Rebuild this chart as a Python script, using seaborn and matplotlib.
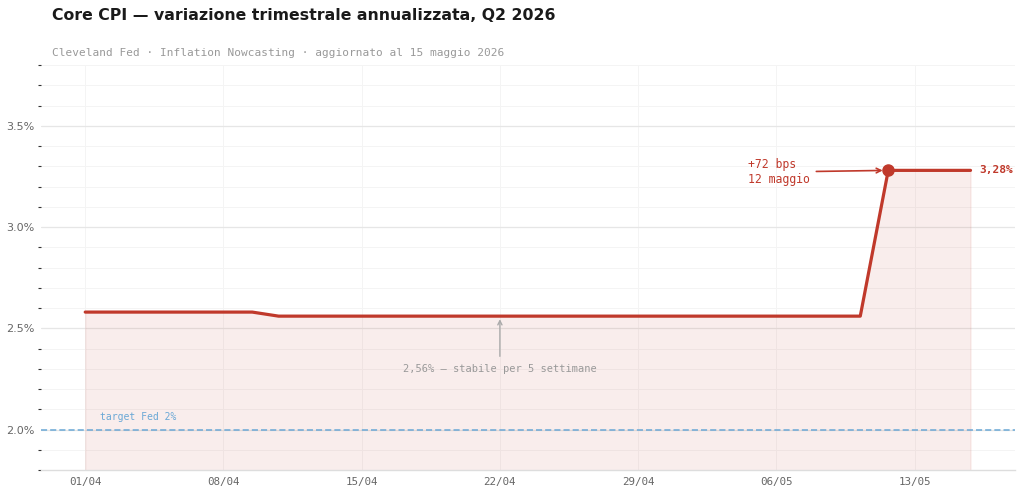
import matplotlib
matplotlib.use('agg')
import matplotlib.pyplot as plt
import matplotlib.dates as mdates
from matplotlib.ticker import MultipleLocator, FuncFormatter
import seaborn as sns
import pandas as pd

# nowcast readings (timestamps)
dates = ['2026-04-01 00:00', '2026-04-09 11:00', '2026-04-10 19:00',
         '2026-05-10 06:00', '2026-05-11 16:00', '2026-05-15 20:00']
core_cpi = [2.58, 2.58, 2.56, 2.56, 3.28, 3.28]
fed_target = 2.0
week_ticks = ['2026-04-01', '2026-04-08', '2026-04-15', '2026-04-22',
              '2026-04-29', '2026-05-06', '2026-05-13']

df = pd.DataFrame({'date': pd.to_datetime(dates), 'cpi': core_cpi})

RED = '#c0392b'
BLUE = '#6aa8d6'
MONO = 'DejaVu Sans Mono'

sns.set_theme(style='white')
plt.rcParams['font.family'] = ['DejaVu Sans']

fig = plt.figure(figsize=(10.24, 4.95), dpi=100)
ax = fig.add_axes([0.04, 0.0505, 0.951, 0.818])

ax.fill_between(df['date'], df['cpi'], 1.0, color=RED, alpha=0.085, lw=1, zorder=1)
ax.axhline(fed_target, color=BLUE, lw=1.1, ls=(0, (4, 2)), zorder=2)
sns.lineplot(data=df, x='date', y='cpi', color=RED, lw=2.3, ax=ax, zorder=3)

# 12 May jump
jump = df.iloc[4]
ax.plot([jump['date']], [jump['cpi']], 'o', color=RED, ms=8, zorder=4)

ax.set_ylim(1.8, 3.8)
ax.margins(x=0.05)
ax.set_xlabel('')
ax.set_ylabel('')

ax.yaxis.set_major_locator(MultipleLocator(0.5))
ax.yaxis.set_minor_locator(MultipleLocator(0.1))
ax.yaxis.set_major_formatter(FuncFormatter(lambda v, p: f'{v:.1f}%'))
ax.set_xticks(pd.to_datetime(week_ticks))
ax.xaxis.set_major_formatter(mdates.DateFormatter('%d/%m'))

ax.grid(axis='y', which='major', color='#e6e6e6', lw=0.9)
ax.grid(axis='y', which='minor', color='#f4f4f4', lw=0.7)
ax.grid(axis='x', which='major', color='#f4f4f4', lw=0.7)
ax.set_axisbelow(True)

ax.tick_params(axis='y', which='major', length=0, pad=5, labelsize=8, labelcolor='#666666')
ax.tick_params(axis='y', which='minor', length=2.5, width=0.8, color='#333333', left=True)
ax.tick_params(axis='x', which='major', length=0, pad=5, labelsize=7.8, labelcolor='#666666')
for lbl in ax.get_xticklabels():
    lbl.set_family(MONO)

for s in ['top', 'right', 'left']:
    ax.spines[s].set_visible(False)
ax.spines['bottom'].set_color('#dddddd')
ax.spines['bottom'].set_linewidth(1)

# annotations
ax.annotate('2,56% — stabile per 5 settimane',
            xy=(pd.Timestamp('2026-04-22'), 2.545), xytext=(pd.Timestamp('2026-04-22'), 2.30),
            ha='center', va='center', fontsize=7.5, color='#999999', family=MONO,
            arrowprops=dict(arrowstyle='->', color='#aaaaaa', lw=1, shrinkA=3, shrinkB=0))

ax.annotate('+72 bps\n12 maggio', xy=(jump['date'], jump['cpi']),
            xytext=(pd.Timestamp('2026-05-04 14:00'), 3.272),
            ha='left', va='center', fontsize=8.3, color=RED, family=MONO, linespacing=1.25,
            arrowprops=dict(arrowstyle='->', color=RED, lw=1.2, shrinkA=2, shrinkB=4))

last = df.iloc[-1]
ax.annotate('3,28%', xy=(last['date'], last['cpi']), xytext=(6, 0),
            textcoords='offset points', ha='left', va='center',
            fontsize=8, fontweight='bold', color=RED, family=MONO)

ax.text(pd.Timestamp('2026-04-01 18:00'), 2.06, 'target Fed 2%', ha='left', va='center',
        fontsize=7, color=BLUE, family=MONO)

fig.text(0.051, 0.968, 'Core CPI — variazione trimestrale annualizzata, Q2 2026',
         ha='left', va='center', fontsize=11.3, fontweight='bold', color='#1a1a1a')
fig.text(0.051, 0.893, 'Cleveland Fed · Inflation Nowcasting · aggiornato al 15 maggio 2026',
         ha='left', va='center', fontsize=8, color='#999999', family=MONO)

fig.savefig('out.png', dpi=100)
